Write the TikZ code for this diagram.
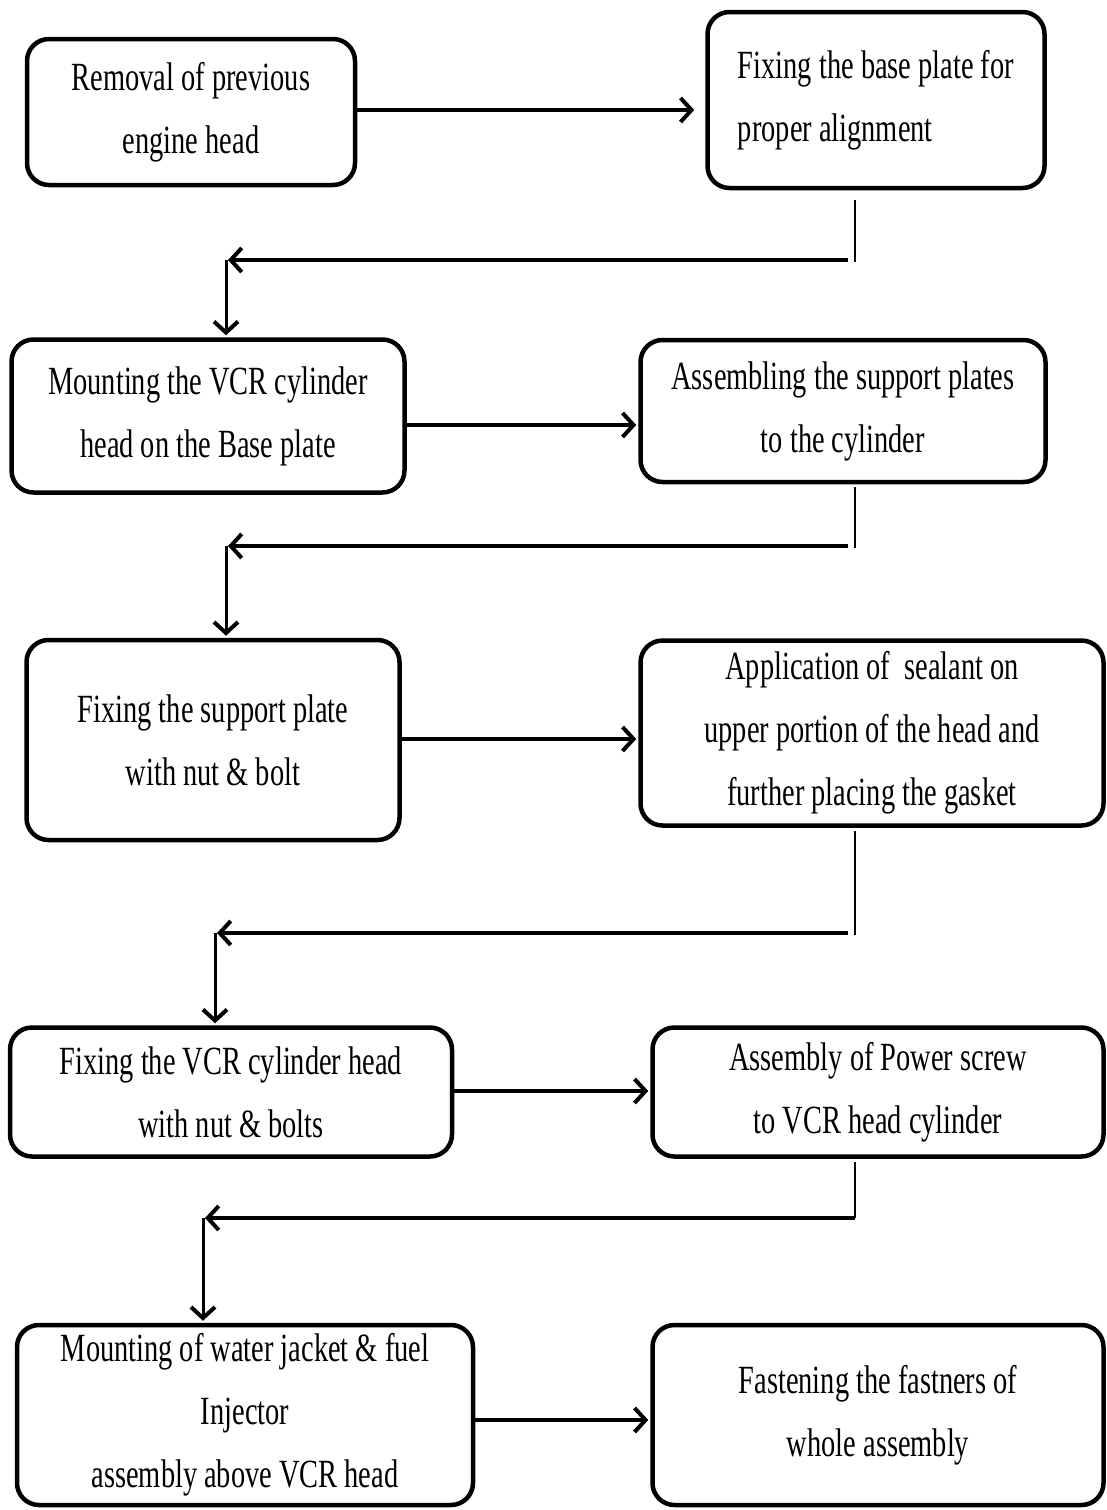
\documentclass[tikz,border=0pt]{standalone}
\usepackage{fontspec}
\setmainfont[FakeStretch=0.71]{Liberation Serif}
\usetikzlibrary{arrows.meta}

\begin{document}
\begin{tikzpicture}[x=1pt,y=-1pt,
    stepbox/.style={draw, line width=4.5pt, rounded corners=22pt, align=center,
      inner sep=0pt, font=\fontsize{40}{63}\selectfont},
    arr/.style={line width=4.5pt, shorten >=2pt,
      -{Straight Barb[length=11pt,width=24pt,line width=4pt]}},
    down/.style={arr, line width=3pt},
    drop/.style={line width=2pt}]
  \useasboundingbox (0,0) rectangle (1106,1510);

  % Steps
  \node[stepbox, minimum width=328, minimum height=146] (rem) at (191,112)
    {Removal of previous\\engine head};
  \node[stepbox, align=left, minimum width=337, minimum height=176] (base) at (876,100)
    {Fixing the base plate for\\proper alignment};
  \node[stepbox, minimum width=393, minimum height=153] (mount) at (208,416)
    {Mounting the VCR cylinder\\head on the Base plate};
  \node[stepbox, minimum width=405, minimum height=142] (supp) at (843,411)
    {Assembling the support plates\\to the cylinder};
  \node[stepbox, minimum width=373, minimum height=200] (fixsupp) at (213,740)
    {Fixing the support plate\\with nut \& bolt};
  \node[stepbox, minimum width=463, minimum height=185] (seal) at (872,733)
    {Application of \ sealant on\\upper portion of the head and\\further placing the gasket};
  \node[stepbox, minimum width=442, minimum height=129] (fixhead) at (231,1092)
    {Fixing the VCR cylinder head\\with nut \& bolts};
  \node[stepbox, minimum width=451, minimum height=129] (screw) at (878,1092)
    {Assembly of Power screw\\to VCR head cylinder};
  \node[stepbox, minimum width=456, minimum height=180] (jacket) at (245,1415)
    {Mounting of water jacket \& fuel\\Injector\\assembly above VCR head};
  \node[stepbox, minimum width=451, minimum height=180] (fasten) at (878,1415)
    {Fastening the fastners of\\whole assembly};

  % Turning points
  \coordinate (r1) at (848,260);  \coordinate (l1) at (226,260);
  \coordinate (r2) at (848,546);  \coordinate (l2) at (226,546);
  \coordinate (r3) at (848,933);  \coordinate (l3) at (215,933);
  \coordinate (r4) at (855,1218); \coordinate (l4) at (203,1218);

  % Across
  \draw[arr, shorten >=11pt] (rem.east |- 0,110) -- (base.west |- 0,110);
  \draw[arr] (mount.east |- 0,425) -- (supp.west |- 0,425);
  \draw[arr] (fixsupp.east |- 0,739) -- (seal.west |- 0,739);
  \draw[arr] (fixhead.east |- 0,1091) -- (screw.west |- 0,1091);
  \draw[arr] (jacket.east |- 0,1420) -- (fasten.west |- 0,1420);

  % Back to the left
  \draw[drop] ([yshift=-10pt]base.south -| 855,0) -- ([yshift=-2pt]r1 -| 855,0);
  \draw[arr] (r1) -- (l1);
  \draw[down] (l1) -- (l1 |- mount.north);
  \draw[drop] ([yshift=-3pt]supp.south -| 855,0) -- ([yshift=-2pt]r2 -| 855,0);
  \draw[arr] (r2) -- (l2);
  \draw[down] (l2) -- (l2 |- fixsupp.north);
  \draw[drop] ([yshift=-3pt]seal.south -| 855,0) -- ([yshift=-2pt]r3 -| 855,0);
  \draw[arr] (r3) -- (l3);
  \draw[down] (l3) -- (l3 |- fixhead.north);
  \draw[drop] ([yshift=-3pt]screw.south -| r4) -- (r4);
  \draw[arr] (r4) -- (l4);
  \draw[down] (l4) -- (l4 |- jacket.north);
\end{tikzpicture}
\end{document}
